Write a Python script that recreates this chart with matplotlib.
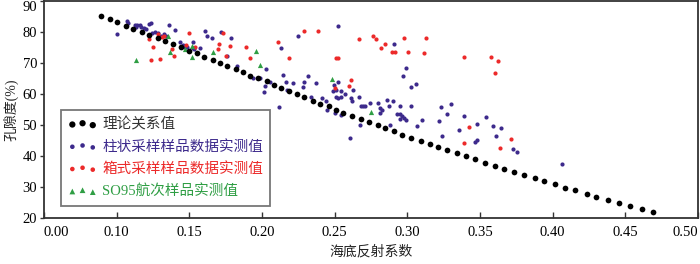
import matplotlib
matplotlib.use("Agg")
import matplotlib.pyplot as plt

plt.rcParams['font.family'] = ['Liberation Serif', 'Noto Sans CJK SC']

# ── data ──────────────────────────────────────────────────────────────────────
theory_x = [0.0890, 0.0952, 0.1002, 0.1062, 0.1112, 0.1171, 0.1221, 0.1281, 0.1331, 0.1390,
            0.1440, 0.1500, 0.1550, 0.1601, 0.1660, 0.1710, 0.1762, 0.1820, 0.1868, 0.1920,
            0.1971, 0.2032, 0.2082, 0.2130, 0.2187, 0.2238, 0.2290, 0.2349, 0.2399, 0.2459,
            0.2509, 0.2560, 0.2618, 0.2678, 0.2738, 0.2797, 0.2847, 0.2906, 0.2966, 0.3025,
            0.3094, 0.3155, 0.3214, 0.3276, 0.3345, 0.3406, 0.3464, 0.3532, 0.3605, 0.3662,
            0.3731, 0.3806, 0.3875, 0.3943, 0.4014, 0.4084, 0.4153, 0.4233, 0.4301, 0.4382,
            0.4459, 0.4529, 0.4612, 0.4690]
theory_y = [85.16, 84.10, 83.13, 82.03, 81.06, 80.10, 79.13, 78.06, 77.19, 76.13,
            75.06, 73.97, 73.13, 72.03, 71.06, 70.00, 69.03, 68.06, 67.00, 65.90,
            65.16, 64.10, 63.00, 61.94, 61.06, 60.10, 58.94, 57.84, 56.87, 56.03,
            54.94, 53.87, 53.00, 51.94, 50.87, 49.90, 48.94, 47.97, 46.87, 45.81,
            44.94, 43.87, 42.90, 41.84, 40.87, 39.90, 38.94, 37.74, 36.87, 35.90,
            34.84, 33.77, 32.90, 31.84, 30.90, 29.77, 28.94, 27.84, 26.87, 25.81,
            24.84, 23.87, 22.81, 21.84]

core_x = [0.1005, 0.1073, 0.1077, 0.1125, 0.1142, 0.1160, 0.1130, 0.1164, 0.1187, 0.1201,
          0.1224, 0.1235, 0.1240, 0.1262, 0.1286, 0.1306, 0.1324, 0.1338, 0.1363, 0.1399,
          0.1438, 0.1457, 0.1468, 0.1484, 0.1525, 0.1523, 0.1534, 0.1575, 0.1608, 0.1621,
          0.1658, 0.1719, 0.1758, 0.1790, 0.1831, 0.1940, 0.1986, 0.2027, 0.2012, 0.2057,
          0.2116, 0.2130, 0.2142, 0.2164, 0.2169, 0.2214, 0.2247, 0.2279, 0.2288, 0.2317,
          0.2334, 0.2370, 0.2416, 0.2443, 0.2447, 0.2488, 0.2493, 0.2507, 0.2523, 0.2521,
          0.2507, 0.2524, 0.2541, 0.2541, 0.2500, 0.2546, 0.2573, 0.2603, 0.2610, 0.2618,
          0.2628, 0.2669, 0.2678, 0.2695, 0.2712, 0.2671, 0.2740, 0.2799, 0.2815, 0.2827,
          0.2810, 0.2861, 0.2899, 0.2875, 0.2880, 0.2911, 0.2929, 0.2947, 0.2961, 0.2979,
          0.2952, 0.2993, 0.2952, 0.2971, 0.2991, 0.3024, 0.3060, 0.3024, 0.3068, 0.3101,
          0.3216, 0.3235, 0.3272, 0.3301, 0.3240, 0.3356, 0.3390, 0.3464, 0.3477, 0.3482,
          0.3541, 0.3589, 0.3613, 0.3646, 0.3728, 0.3758, 0.4065, 0.2021]
core_y = [79.35, 83.65, 83.00, 82.26, 82.26, 82.16, 81.71, 81.71, 81.39, 80.87,
          82.58, 82.81, 79.77, 79.90, 79.77, 78.81, 79.26, 78.71, 82.26, 80.65,
          76.68, 75.81, 75.26, 75.26, 76.87, 74.74, 74.42, 74.74, 80.42, 78.81,
          78.16, 80.00, 72.26, 78.06, 69.03, 65.06, 65.06, 67.97, 60.74, 63.97,
          55.90, 74.74, 66.03, 63.87, 61.29, 63.65, 78.81, 62.35, 63.87, 65.90,
          59.13, 63.45, 58.61, 57.84, 54.94, 60.97, 62.90, 61.29, 63.97, 82.03,
          59.19, 58.87, 59.19, 60.97, 53.97, 53.23, 60.10, 45.71, 58.81, 57.84,
          61.29, 59.03, 56.13, 56.13, 56.13, 50.16, 57.00, 57.00, 55.48, 54.94,
          54.03, 58.06, 57.65, 55.97, 50.00, 76.03, 53.45, 53.45, 52.90, 52.26,
          51.94, 51.77, 56.03, 65.90, 68.32, 62.26, 63.32, 56.03, 49.58, 51.68,
          51.39, 55.87, 53.55, 56.87, 46.45, 48.39, 53.00, 44.42, 45.16, 50.32,
          52.42, 49.61, 46.45, 48.97, 42.19, 41.19, 37.35, 62.58]

box_x = [0.1221, 0.1247, 0.1234, 0.1282, 0.1300, 0.1315, 0.1329, 0.1379, 0.1397, 0.1478,
         0.1497, 0.1541, 0.1699, 0.1703, 0.1729, 0.1749, 0.1779, 0.1887, 0.1920, 0.2108,
         0.2183, 0.2290, 0.2382, 0.2507, 0.2521, 0.2500, 0.2599, 0.2614, 0.2666, 0.2762,
         0.2781, 0.2848, 0.2817, 0.2896, 0.2916, 0.2975, 0.3005, 0.3115, 0.3125, 0.3390,
         0.3573, 0.3623, 0.3601, 0.3425, 0.3387, 0.3710, 0.3635]
box_y = [77.74, 75.32, 70.87, 79.26, 71.45, 78.23, 78.71, 74.42, 72.26, 75.87,
         79.68, 75.16, 74.42, 76.29, 79.61, 72.26, 75.58, 75.06, 71.52, 76.77,
         71.71, 80.32, 80.32, 71.77, 71.52, 61.84, 62.58, 64.52, 77.74, 78.77,
         77.74, 76.19, 74.74, 73.65, 73.65, 77.97, 73.45, 73.13, 78.06, 71.94,
         71.94, 70.58, 66.71, 49.42, 44.10, 45.61, 42.48]

so95_x = [0.1130, 0.1353, 0.1370, 0.1473, 0.1516, 0.1521, 0.1666, 0.1959, 0.1984, 0.2479, 0.2751]
so95_y = [70.97, 78.61, 73.61, 74.61, 75.39, 72.00, 73.39, 73.71, 69.29, 64.94, 54.26]

xticks = [0.05, 0.10, 0.15, 0.20, 0.25, 0.30, 0.35, 0.40, 0.45, 0.50]
xtick_labels = ["0.00", "0.10", "0.15", "0.20", "0.25", "0.30", "0.35", "0.40", "0.45", "0.50"]
yticks = [20, 30, 40, 50, 60, 70, 80, 90]

PURPLE = "#3d2a8c"
RED = "#ec2a2a"
GREEN = "#2f9e44"

# ── figure ────────────────────────────────────────────────────────────────────
fig = plt.figure(figsize=(7.0, 2.64), dpi=100, facecolor="white")
ax = fig.add_axes([44 / 700, 1 - 218 / 264, 654 / 700, 217 / 264])

ax.scatter(theory_x, theory_y, s=17, c="black", linewidths=0, zorder=3, label="理论关系值")
ax.scatter(core_x, core_y, s=9, c=PURPLE, linewidths=0, zorder=2, label="柱状采样样品数据实测值")
ax.scatter(box_x, box_y, s=9, c=RED, linewidths=0, zorder=2, label="箱式采样样品数据实测值")
ax.scatter(so95_x, so95_y, s=14, c=GREEN, marker="^", linewidths=0, zorder=2,
           label="SO95航次样品实测值")

ax.set_xlim(0.05, 0.50)
ax.set_ylim(20, 90)
ax.set_xticks(xticks)
ax.set_xticklabels(xtick_labels)
ax.set_yticks(yticks)
tl = ax.get_xticklabels()
tl[0].set_horizontalalignment("left")
tl[-1].set_horizontalalignment("right")
ax.get_yticklabels()[-1].set_verticalalignment("top")

ax.tick_params(axis="x", direction="in", length=4, width=1, color="#333",
               labelsize=10.5, pad=6)
ax.tick_params(axis="y", direction="out", length=3, width=1, color="#333",
               labelsize=10.5, pad=2)
for sp in ax.spines.values():
    sp.set_color("#333")
    sp.set_linewidth(1.3)

ax.set_xlabel("海底反射系数", fontsize=10, color="#222", labelpad=4)
ax.set_ylabel("孔隙度(%)", fontsize=10, color="#222", labelpad=3)

leg = ax.legend(loc="lower left", bbox_to_anchor=(0.0255, 0.057), borderaxespad=0,
                scatterpoints=3, fontsize=10.5, frameon=True, fancybox=False,
                labelspacing=0.58, handletextpad=0.35, borderpad=0.5,
                handlelength=2.0, markerscale=1.1)
leg.get_frame().set_edgecolor("#555")
leg.get_frame().set_linewidth(1.3)
for txt, col in zip(leg.get_texts(), ["#333", PURPLE, RED, GREEN]):
    txt.set_color(col)

fig.savefig("out.png", dpi=100, facecolor="white")
